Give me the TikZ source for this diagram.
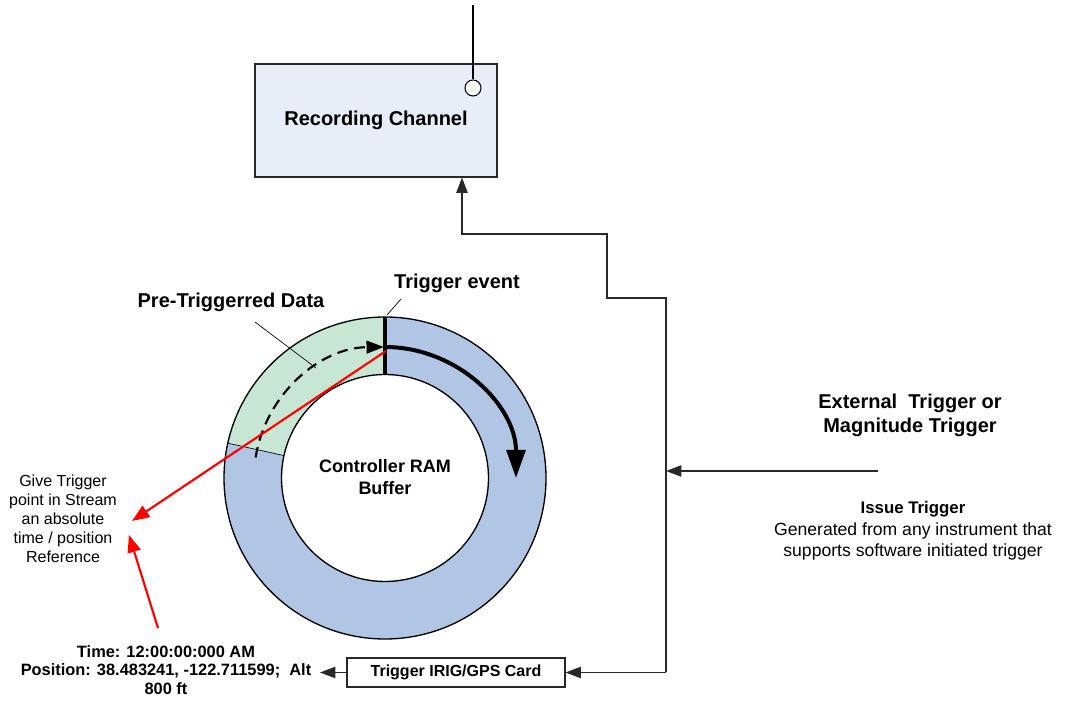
\documentclass[tikz,border=0pt]{standalone}
\usepackage{fontspec}
\setmainfont{Liberation Sans}
\usetikzlibrary{arrows.meta,calc}
\definecolor{boxfill}{RGB}{232,238,248}
\definecolor{ringblue}{RGB}{176,198,228}
\definecolor{ringgreen}{RGB}{200,230,212}
\definecolor{linegray}{RGB}{40,40,40}
\tikzset{
  conn/.style={draw=linegray,line width=1pt},
  tri/.style={-{Triangle[length=11.5pt,width=8.5pt]}},
  redarrow/.style={draw=red,line width=1.6pt,-{Triangle[length=13pt,width=10pt]}},
  leader/.style={draw=black,line width=0.5pt},
  bigbold/.style={font=\fontsize{15}{18}\selectfont\bfseries,align=center,inner sep=0pt},
}
\begin{document}
\begin{tikzpicture}[x=0.75pt,y=0.75pt]
\useasboundingbox (0,0) rectangle (1065,704);
% Recording channel box
\node[draw=linegray,fill=boxfill,line width=0.8pt,minimum width=181.5pt,minimum height=84.75pt,inner sep=0pt,
  font=\fontsize{15}{18}\selectfont\bfseries] (rec) at (376,583.5) {Recording Channel};
% antenna
\node[draw=black,fill=white,circle,minimum size=12pt,inner sep=0pt,line width=0.8pt] (ant) at (473,616) {};
\coordinate (anttop) at (473,699);
\draw[line width=1.6pt] (anttop) -- (ant.north);

% ring
\coordinate (c) at (385,226);
\fill[ringblue,even odd rule] (c) circle[radius=161] (c) circle[radius=103.5];
\fill[ringgreen] ($(c)+(90:161)$) arc[start angle=90,end angle=167.5,radius=161]
  -- ($(c)+(167.5:103.5)$) arc[start angle=167.5,end angle=90,radius=103.5] -- cycle;
\draw[line width=0.5pt] ($(c)+(167.5:161)$) -- ($(c)+(167.5:103.5)$);
\draw[line width=1pt] (c) circle[radius=161];
\draw[line width=1pt] (c) circle[radius=103.5];
\draw[line width=2.5pt] ($(c)+(90:103.5)$) -- ($(c)+(90:161)$);
% dashed arrow
\draw[line width=1.6pt,dash pattern=on 8pt off 5pt,-{Triangle[length=13pt,width=9.5pt]}]
  ($(c)+(171:131)$) arc[start angle=171,end angle=90.5,radius=131];
% solid thick arrow
\draw[line width=3pt,-{Triangle[length=21pt,width=14pt]}]
  ($(c)+(90:131)$) arc[start angle=90,end angle=0,radius=131];
\node[font=\fontsize{13.5}{16.5}\selectfont\bfseries,align=center] (ram) at (385,227) {Controller RAM\\Buffer};

% labels on ring
\node[bigbold] (trig) at (457,421) {Trigger event};
\coordinate (trigend) at (387,389);
\draw[leader] (401,405) -- (trigend);
\node[bigbold] (pre) at (231,402) {Pre-Triggerred Data};
\coordinate (preend) at (316,336);
\draw[leader] (255,382) -- (preend);

% connectors
\node[draw=linegray,line width=0.8pt,minimum width=163.5pt,minimum height=21.75pt,inner sep=0pt,
  font=\fontsize{12}{14}\selectfont\bfseries] (card) at (456,31.5) {Trigger IRIG/GPS Card};
\coordinate (vb) at (666,31.5);
\coordinate (v1) at (666,406);
\coordinate (v2) at (607,406);
\coordinate (v3) at (607,470);
\coordinate (v4) at (462,470);
\draw[conn,tri] (vb) -- (v1) -- (v2) -- (v3) -- (v4) -- (v4 |- rec.south);
\draw[conn,tri] (vb) -- (card.east);
\coordinate (ext) at (878,233);
\coordinate (tj) at (666,233);
\draw[conn,tri] (ext) -- (tj);
\coordinate (cardout) at (320,31.5);
\draw[conn,tri] (card.west) -- (cardout);

% right texts
\node[bigbold] (exttxt) at (910,289) {External\ \ Trigger or\\Magnitude Trigger};
\node[align=center,inner sep=0pt,font=\fontsize{13.2}{16}\selectfont] (issue) at (913,173)
  {{\fontsize{12.6}{16}\selectfont\bfseries Issue Trigger}\\Generated from any instrument that\\supports software initiated trigger};

% left texts
\node[align=center,inner sep=0pt,font=\fontsize{12}{14.25}\selectfont] (give) at (63,185)
  {Give Trigger\\point in Stream\\an absolute\\time / position\\Reference};
\node[align=center,inner sep=0pt,font=\fontsize{12.3}{14}\selectfont\bfseries] (time) at (166,34)
  {Time: 12:00:00:000 AM\\Position: 38.483241, -122.711599;\ \ Alt\\800 ft};

% red arrows
\coordinate (rs) at (386,353);
\coordinate (rt1) at (132,183);
\coordinate (rs2) at (158,76);
\coordinate (rt2) at (129,169);
\draw[redarrow] (rs) -- (rt1);
\draw[redarrow] (rs2) -- (rt2);
\end{tikzpicture}
\end{document}
